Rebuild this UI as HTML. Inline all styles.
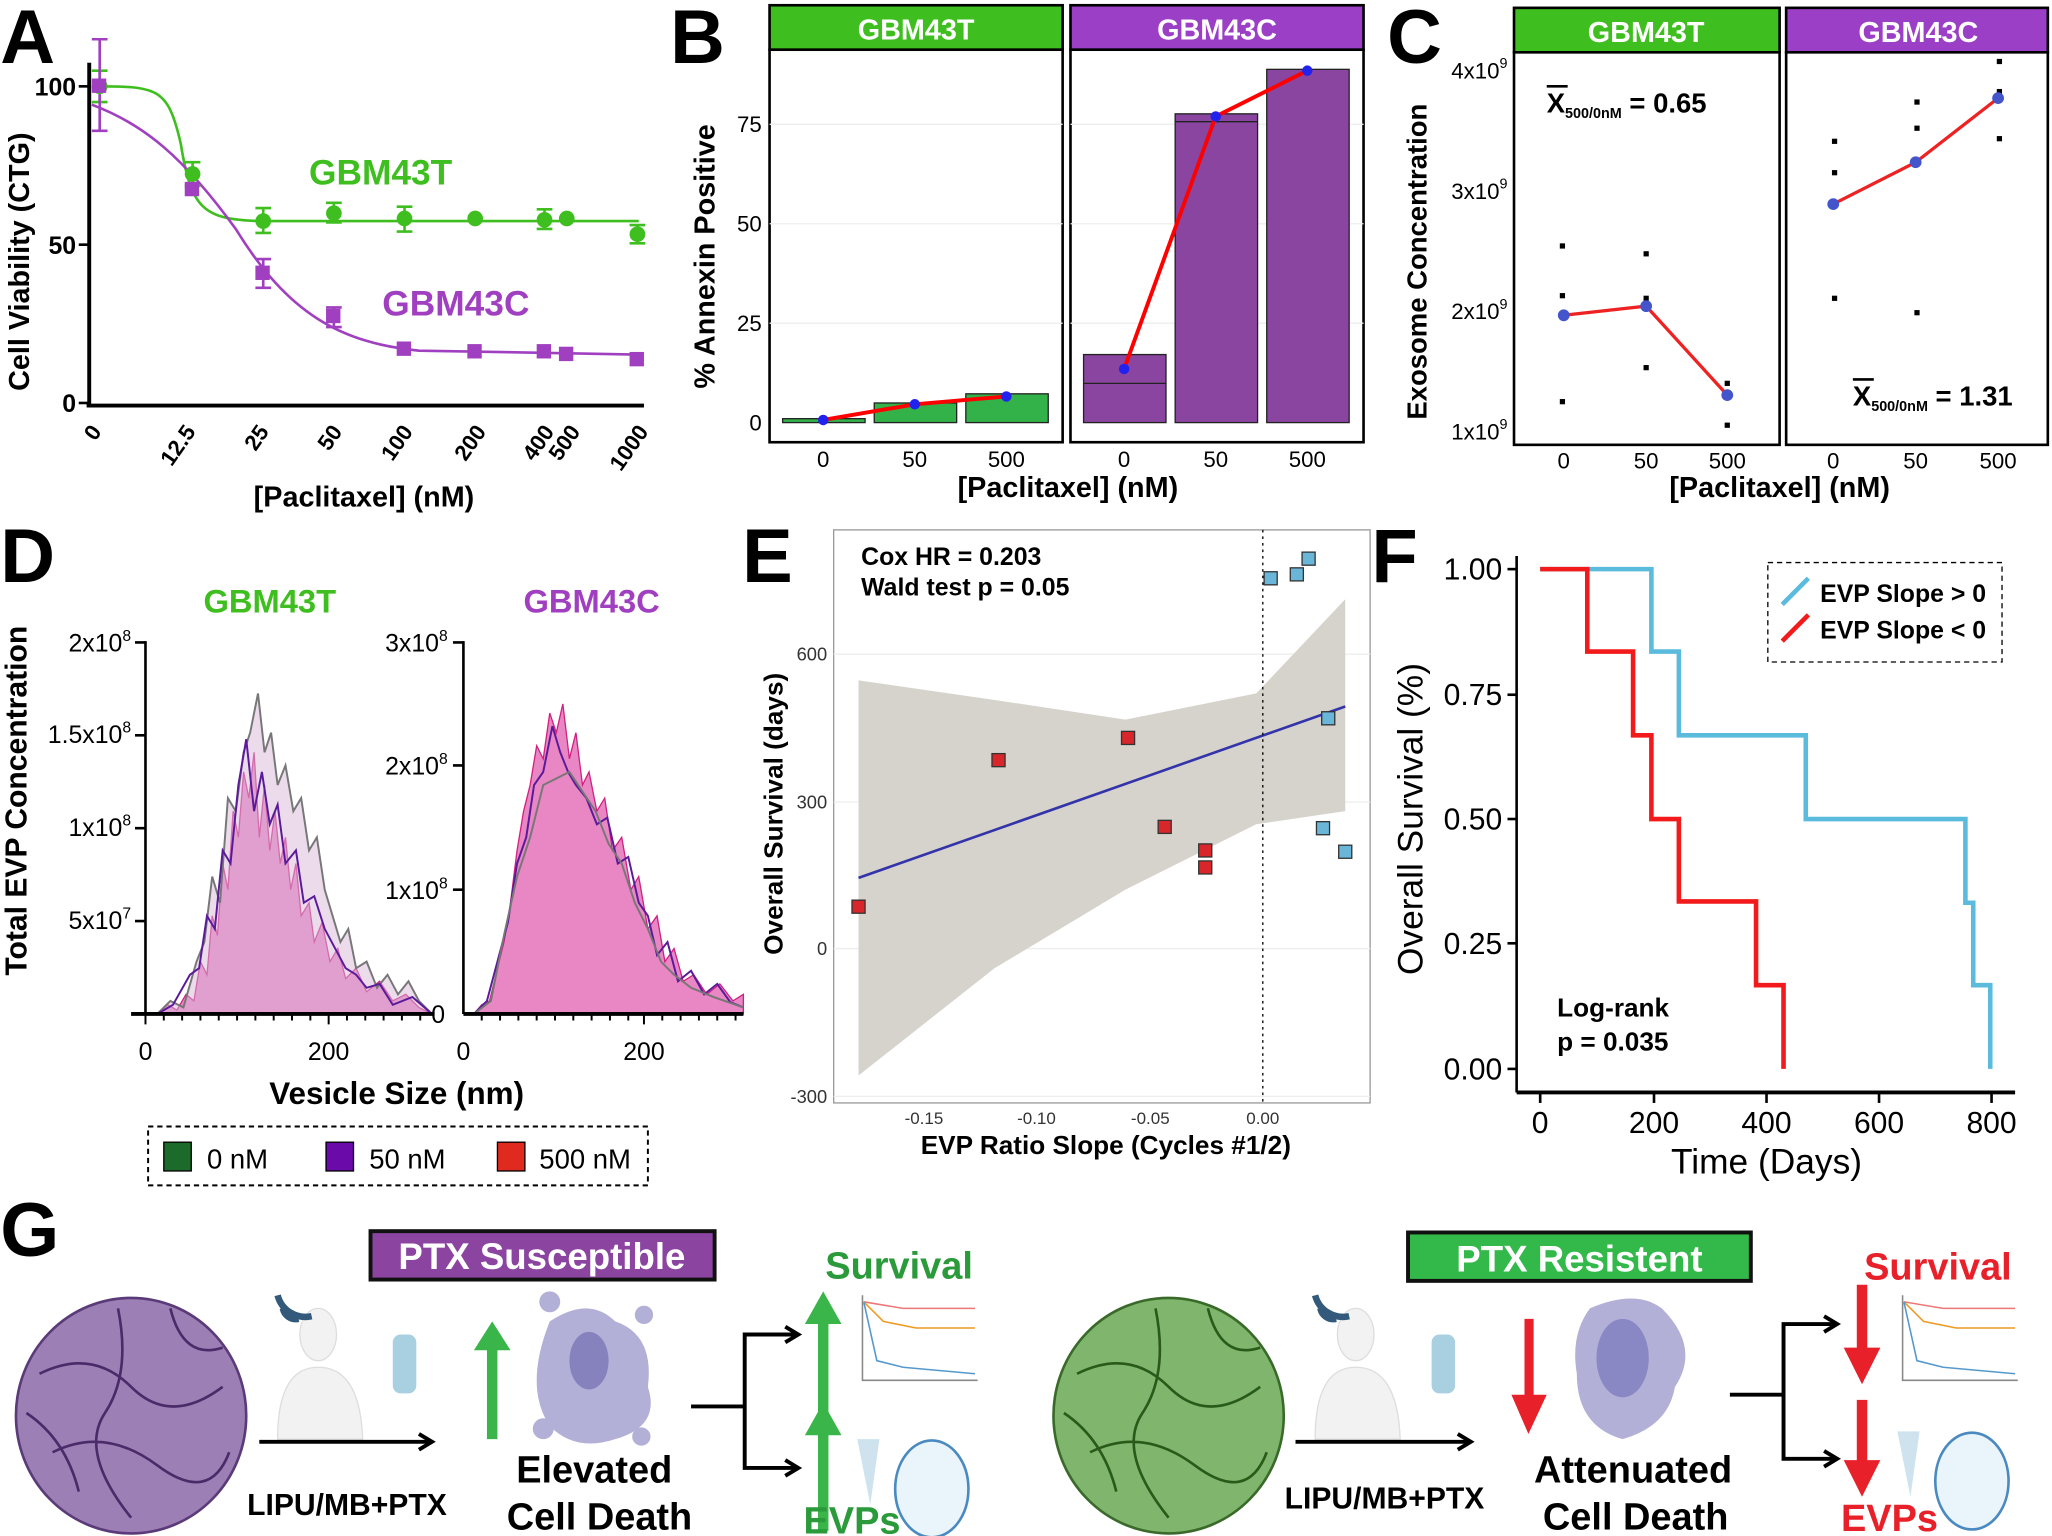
<!DOCTYPE html>
<html><head><meta charset="utf-8"><style>
html,body{margin:0;padding:0;background:#fff}
svg{display:block}
text{font-family:"Liberation Sans",sans-serif}
</style></head><body>
<svg width="2052" height="1536" viewBox="0 0 1568 1174" xmlns="http://www.w3.org/2000/svg">
<g font-weight="bold" font-size="58">
<text x="0" y="48">A</text><text x="512" y="48">B</text><text x="1060" y="48">C</text>
<text x="0" y="445">D</text><text x="567" y="445">E</text><text x="1048" y="445">F</text>
<text x="0" y="960">G</text></g>

<!-- ===== A ===== -->
<g>
<line x1="68" y1="48" x2="68" y2="310" stroke="#000" stroke-width="3"/>
<line x1="66" y1="310" x2="492" y2="310" stroke="#000" stroke-width="3"/>
<g stroke="#000" stroke-width="2"><line x1="60" y1="66" x2="68" y2="66"/><line x1="60" y1="187" x2="68" y2="187"/><line x1="60" y1="308" x2="68" y2="308"/></g>
<g font-size="19" font-weight="bold" text-anchor="end"><text x="58" y="73">100</text><text x="58" y="194">50</text><text x="58" y="315">0</text></g>
<g font-size="17" font-weight="bold" text-anchor="end">
<text transform="translate(78,330) rotate(-55)">0</text>
<text transform="translate(150,330) rotate(-55)">12.5</text>
<text transform="translate(206,330) rotate(-55)">25</text>
<text transform="translate(262,330) rotate(-55)">50</text>
<text transform="translate(316,330) rotate(-55)">100</text>
<text transform="translate(372,330) rotate(-55)">200</text>
<text transform="translate(424,330) rotate(-55)">400</text>
<text transform="translate(444,330) rotate(-55)">500</text>
<text transform="translate(496,330) rotate(-55)">1000</text></g>
<text x="278" y="387" font-size="22" font-weight="bold" text-anchor="middle">[Paclitaxel] (nM)</text>
<text transform="translate(22,200) rotate(-90)" font-size="22" font-weight="bold" text-anchor="middle">Cell Viability (CTG)</text>
<path d="M70,66 C120,66 128,66 138,110 C146,160 155,168 200,169 L488,169" fill="none" stroke="#3fbf1f" stroke-width="2"/>
<path d="M70,80 C110,95 140,120 180,175 C220,240 260,262 320,268 L488,271" fill="none" stroke="#a040c0" stroke-width="2"/>
<g stroke="#3fbf1f" stroke-width="2"><path d="M76,54V78M70,54h12M70,78h12M147,124V142M141,124h12M141,142h12M201,159V178M195,159h12M195,178h12M255,155V170M249,155h12M249,170h12M309,158V177M303,158h12M303,177h12M416,160V175M410,160h12M410,175h12M487,172V186M481,172h12M481,186h12"/></g>
<g stroke="#a040c0" stroke-width="2"><path d="M76,30V100M70,30h12M70,100h12M201,198V220M195,198h12M195,220h12M255,235V250M249,235h12M249,250h12"/></g>
<g fill="#3fbf1f"><circle cx="76" cy="66" r="6"/><circle cx="147" cy="133" r="6"/><circle cx="201" cy="169" r="6"/><circle cx="255" cy="163" r="6"/><circle cx="309" cy="167" r="6"/><circle cx="363" cy="167" r="6"/><circle cx="416" cy="168" r="6"/><circle cx="433" cy="167" r="6"/><circle cx="487" cy="179" r="6"/></g>
<g fill="#a040c0"><rect x="70" y="60" width="11" height="11"/><rect x="141" y="139" width="11" height="11"/><rect x="195" y="203" width="11" height="11"/><rect x="249" y="236" width="11" height="11"/><rect x="303" y="261" width="11" height="11"/><rect x="357" y="263" width="11" height="11"/><rect x="410" y="263" width="11" height="11"/><rect x="427" y="265" width="11" height="11"/><rect x="481" y="269" width="11" height="11"/></g>
<text x="236" y="141" font-size="27" font-weight="bold" fill="#3fbf1f">GBM43T</text>
<text x="292" y="241" font-size="27" font-weight="bold" fill="#a040c0">GBM43C</text>
</g>

<!-- ===== B ===== -->
<g>
<rect x="588" y="4" width="224" height="34" fill="#3fbf1f" stroke="#000" stroke-width="2"/>
<rect x="818" y="4" width="224" height="34" fill="#9b3fc6" stroke="#000" stroke-width="2"/>
<text x="700" y="30" font-size="22" font-weight="bold" fill="#fff" text-anchor="middle">GBM43T</text>
<text x="930" y="30" font-size="22" font-weight="bold" fill="#fff" text-anchor="middle">GBM43C</text>
<rect x="588" y="38" width="224" height="300" fill="#fff" stroke="#000" stroke-width="2"/>
<rect x="818" y="38" width="224" height="300" fill="#fff" stroke="#000" stroke-width="2"/>
<g stroke="#eee"><line x1="588" y1="95" x2="812" y2="95"/><line x1="588" y1="171" x2="812" y2="171"/><line x1="588" y1="247" x2="812" y2="247"/><line x1="818" y1="95" x2="1042" y2="95"/><line x1="818" y1="171" x2="1042" y2="171"/><line x1="818" y1="247" x2="1042" y2="247"/></g>
<g stroke="#222" stroke-width="1" fill="#33b249"><rect x="598" y="320" width="63" height="3"/><rect x="668" y="308" width="63" height="15"/><rect x="738" y="301" width="63" height="22"/></g>
<g stroke="#222" stroke-width="1" fill="#8a45a0"><rect x="828" y="271" width="63" height="52"/><rect x="898" y="87" width="63" height="236"/><rect x="968" y="53" width="63" height="270"/></g>
<line x1="828" y1="293" x2="891" y2="293" stroke="#222"/><line x1="898" y1="93" x2="961" y2="93" stroke="#222"/>
<polyline points="629,321 699,309 769,303" fill="none" stroke="red" stroke-width="3"/>
<polyline points="859,282 929,89 999,54" fill="none" stroke="red" stroke-width="3"/>
<g fill="#22e"><circle cx="629" cy="321" r="4"/><circle cx="699" cy="309" r="4"/><circle cx="769" cy="303" r="4"/><circle cx="859" cy="282" r="4"/><circle cx="929" cy="89" r="4"/><circle cx="999" cy="54" r="4"/></g>
<g font-size="17" text-anchor="end"><text x="582" y="101">75</text><text x="582" y="177">50</text><text x="582" y="253">25</text><text x="582" y="329">0</text></g>
<g font-size="17" text-anchor="middle"><text x="629" y="357">0</text><text x="699" y="357">50</text><text x="769" y="357">500</text><text x="859" y="357">0</text><text x="929" y="357">50</text><text x="999" y="357">500</text></g>
<text x="816" y="380" font-size="22" font-weight="bold" text-anchor="middle">[Paclitaxel] (nM)</text>
<text transform="translate(546,196) rotate(-90)" font-size="22" font-weight="bold" text-anchor="middle">% Annexin Positive</text>
</g>

<!-- ===== C ===== -->
<g>
<rect x="1157" y="6" width="203" height="34" fill="#3fbf1f" stroke="#000" stroke-width="2"/>
<rect x="1365" y="6" width="200" height="34" fill="#9b3fc6" stroke="#000" stroke-width="2"/>
<text x="1258" y="32" font-size="22" font-weight="bold" fill="#fff" text-anchor="middle">GBM43T</text>
<text x="1466" y="32" font-size="22" font-weight="bold" fill="#fff" text-anchor="middle">GBM43C</text>
<rect x="1157" y="40" width="203" height="300" fill="#fff" stroke="#000" stroke-width="2"/>
<rect x="1365" y="40" width="200" height="300" fill="#fff" stroke="#000" stroke-width="2"/>
<g font-size="17" text-anchor="end"><text x="1152" y="60">4x10<tspan font-size="11" dy="-8">9</tspan></text><text x="1152" y="152">3x10<tspan font-size="11" dy="-8">9</tspan></text><text x="1152" y="244">2x10<tspan font-size="11" dy="-8">9</tspan></text><text x="1152" y="336">1x10<tspan font-size="11" dy="-8">9</tspan></text></g>
<g font-size="17" text-anchor="middle"><text x="1195" y="358">0</text><text x="1258" y="358">50</text><text x="1320" y="358">500</text><text x="1401" y="358">0</text><text x="1464" y="358">50</text><text x="1527" y="358">500</text></g>
<g fill="#000"><rect x="1192" y="186" width="4" height="4"/><rect x="1192" y="224" width="4" height="4"/><rect x="1192" y="305" width="4" height="4"/><rect x="1256" y="192" width="4" height="4"/><rect x="1256" y="226" width="4" height="4"/><rect x="1256" y="279" width="4" height="4"/><rect x="1318" y="291" width="4" height="4"/><rect x="1318" y="323" width="4" height="4"/><rect x="1400" y="106" width="4" height="4"/><rect x="1400" y="130" width="4" height="4"/><rect x="1400" y="226" width="4" height="4"/><rect x="1463" y="76" width="4" height="4"/><rect x="1463" y="96" width="4" height="4"/><rect x="1463" y="237" width="4" height="4"/><rect x="1526" y="45" width="4" height="4"/><rect x="1526" y="68" width="4" height="4"/><rect x="1526" y="104" width="4" height="4"/></g>
<polyline points="1195,241 1258,234 1320,302" fill="none" stroke="#e22" stroke-width="2.5"/>
<polyline points="1401,156 1464,124 1527,75" fill="none" stroke="#e22" stroke-width="2.5"/>
<g fill="#4455cc"><circle cx="1195" cy="241" r="4.5"/><circle cx="1258" cy="234" r="4.5"/><circle cx="1320" cy="302" r="4.5"/><circle cx="1401" cy="156" r="4.5"/><circle cx="1464" cy="124" r="4.5"/><circle cx="1527" cy="75" r="4.5"/></g>
<text x="1182" y="86" font-size="21" font-weight="bold">X<tspan font-size="11" dy="4">500/0nM</tspan><tspan dy="-4"> = 0.65</tspan></text>
<line x1="1182" y1="66" x2="1198" y2="66" stroke="#000" stroke-width="2"/>
<text x="1416" y="310" font-size="21" font-weight="bold">X<tspan font-size="11" dy="4">500/0nM</tspan><tspan dy="-4"> = 1.31</tspan></text>
<line x1="1416" y1="290" x2="1432" y2="290" stroke="#000" stroke-width="2"/>
<text x="1360" y="380" font-size="22" font-weight="bold" text-anchor="middle">[Paclitaxel] (nM)</text>
<text transform="translate(1090,200) rotate(-90)" font-size="21" font-weight="bold" text-anchor="middle">Exosome Concentration</text>
</g>

<!-- ===== D ===== -->
<g>
<text x="206" y="468" font-size="25" font-weight="bold" fill="#3fbf1f" text-anchor="middle">GBM43T</text>
<text x="452" y="468" font-size="25" font-weight="bold" fill="#a040c0" text-anchor="middle">GBM43C</text>
<text transform="translate(20,612) rotate(-90)" font-size="23" font-weight="bold" text-anchor="middle">Total EVP Concentration</text>
<line x1="111" y1="490" x2="111" y2="775" stroke="#000" stroke-width="2"/>
<line x1="354" y1="490" x2="354" y2="775" stroke="#000" stroke-width="2"/>
<g stroke="#000" stroke-width="2"><path d="M103,491h8M103,562h8M103,633h8M103,704h8M346,491h8M346,585h8M346,680h8"/></g>
<g font-size="19" text-anchor="end"><text x="100" y="498">2x10<tspan font-size="12" dy="-8">8</tspan></text><text x="100" y="568">1.5x10<tspan font-size="12" dy="-8">8</tspan></text><text x="100" y="639">1x10<tspan font-size="12" dy="-8">8</tspan></text><text x="100" y="710">5x10<tspan font-size="12" dy="-8">7</tspan></text>
<text x="342" y="498">3x10<tspan font-size="12" dy="-8">8</tspan></text><text x="342" y="592">2x10<tspan font-size="12" dy="-8">8</tspan></text><text x="342" y="687">1x10<tspan font-size="12" dy="-8">8</tspan></text><text x="340" y="782">0</text></g>
<path d="M120,775 L128,768 L135,772 L142,760 L148,765 L153,735 L158,745 L162,700 L166,715 L170,660 L174,680 L178,620 L182,640 L186,590 L190,610 L194,575 L198,640 L202,600 L206,650 L210,620 L214,660 L218,640 L222,680 L226,660 L230,700 L236,690 L240,720 L246,705 L252,735 L258,725 L264,748 L272,740 L280,758 L290,750 L300,765 L310,760 L320,770 L330,775 Z" fill="#e887c4" stroke="#d02080" stroke-width="1"/>
<path d="M120,775 L130,765 L140,770 L150,735 L156,720 L162,670 L168,690 L174,610 L180,620 L186,575 L191,560 L197,530 L202,575 L207,560 L212,600 L218,585 L224,620 L230,610 L236,650 L242,640 L248,680 L254,700 L260,720 L266,710 L272,740 L280,735 L288,755 L296,745 L304,760 L312,750 L320,765 L330,775" fill="#d8b8d8" fill-opacity="0.5" stroke="#777" stroke-width="1.5"/>
<path d="M120,775 L132,768 L145,745 L152,740 L158,700 L164,710 L170,650 L176,660 L182,600 L188,565 L194,620 L200,590 L206,630 L212,615 L218,660 L226,650 L232,690 L240,685 L248,710 L256,725 L264,740 L272,745 L280,755 L290,752 L300,768 L315,762 L330,775" fill="none" stroke="#5a1a9a" stroke-width="1.5"/>
<path d="M362,775 L368,768 L374,765 L380,740 L385,720 L390,690 L395,650 L400,620 L405,600 L410,570 L415,580 L420,545 L425,560 L430,538 L435,580 L440,560 L445,600 L450,590 L456,620 L462,610 L468,650 L475,640 L482,680 L488,670 L495,710 L502,700 L508,735 L515,725 L522,750 L530,745 L540,760 L550,752 L560,765 L568,760 L568,775 Z" fill="#e887c4" stroke="#d02080" stroke-width="1"/>
<path d="M362,775 L372,765 L380,735 L388,705 L395,660 L402,640 L408,600 L415,590 L422,555 L428,575 L434,590 L440,600 L448,610 L456,630 L464,625 L472,660 L480,655 L488,690 L495,700 L502,730 L510,720 L518,750 L528,742 L538,760 L548,752 L558,766 L568,770" fill="none" stroke="#5a1a9a" stroke-width="1.5"/>
<path d="M362,775 L375,765 L385,715 L395,670 L405,640 L415,600 L425,595 L435,590 L445,605 L455,620 L465,645 L475,660 L485,690 L495,710 L505,735 L515,745 L528,755 L545,762 L568,770" fill="none" stroke="#777" stroke-width="1.5"/>
<line x1="100" y1="775" x2="332" y2="775" stroke="#000" stroke-width="3"/>
<line x1="354" y1="775" x2="568" y2="775" stroke="#000" stroke-width="3"/>
<g stroke="#000" stroke-width="1.5"><path d="M111,775v8M125,775v5M139,775v5M153,775v5M167,775v5M181,775v5M195,775v5M209,775v5M223,775v5M237,775v5M251,775v8M265,775v5M279,775v5M293,775v5M307,775v5M321,775v5M368,775v5M382,775v5M396,775v5M410,775v5M424,775v5M438,775v5M452,775v5M466,775v5M480,775v5M492,775v8M506,775v5M520,775v5M534,775v5M548,775v5M562,775v5"/></g>
<g font-size="19" text-anchor="middle"><text x="111" y="810">0</text><text x="251" y="810">200</text><text x="354" y="810">0</text><text x="492" y="810">200</text></g>
<text x="303" y="844" font-size="24" font-weight="bold" text-anchor="middle">Vesicle Size (nm)</text>
<rect x="113" y="861" width="382" height="45" fill="none" stroke="#000" stroke-width="1.5" stroke-dasharray="4,3"/>
<rect x="125" y="873" width="21" height="22" fill="#1d6b2a" stroke="#000"/>
<rect x="249" y="873" width="21" height="22" fill="#6a0aa8" stroke="#000"/>
<rect x="380" y="873" width="21" height="22" fill="#e02a20" stroke="#000"/>
<g font-size="21"><text x="158" y="893">0 nM</text><text x="282" y="893">50 nM</text><text x="412" y="893">500 nM</text></g>
</g>

<!-- ===== E ===== -->
<g>
<rect x="637" y="405" width="410" height="438" fill="#fff" stroke="#999"/>
<g stroke="#eee"><line x1="637" y1="500" x2="1047" y2="500"/><line x1="637" y1="613" x2="1047" y2="613"/><line x1="637" y1="725" x2="1047" y2="725"/><line x1="637" y1="838" x2="1047" y2="838"/></g>
<path d="M656,520 L760,535 L860,550 L960,530 L1028,458 L1028,620 L960,630 L860,680 L760,740 L656,822 Z" fill="#d6d3cc"/>
<line x1="656" y1="671" x2="1028" y2="540" stroke="#3333aa" stroke-width="2"/>
<line x1="965" y1="405" x2="965" y2="843" stroke="#000" stroke-dasharray="2,3"/>
<g fill="#d8262a" stroke="#333"><rect x="651" y="688" width="10" height="10"/><rect x="758" y="576" width="10" height="10"/><rect x="857" y="559" width="10" height="10"/><rect x="885" y="627" width="10" height="10"/><rect x="916" y="645" width="10" height="10"/><rect x="916" y="658" width="10" height="10"/></g>
<g fill="#6ab6d8" stroke="#333"><rect x="966" y="437" width="10" height="10"/><rect x="986" y="434" width="10" height="10"/><rect x="995" y="422" width="10" height="10"/><rect x="1010" y="544" width="10" height="10"/><rect x="1006" y="628" width="10" height="10"/><rect x="1023" y="646" width="10" height="10"/></g>
<g font-size="14" text-anchor="end" fill="#333"><text x="632" y="505">600</text><text x="632" y="618">300</text><text x="632" y="730">0</text><text x="632" y="843">-300</text></g>
<g font-size="13" text-anchor="middle" fill="#333"><text x="706" y="859">-0.15</text><text x="792" y="859">-0.10</text><text x="879" y="859">-0.05</text><text x="965" y="859">0.00</text></g>
<text x="845" y="882" font-size="20" font-weight="bold" text-anchor="middle">EVP Ratio Slope (Cycles #1/2)</text>
<text transform="translate(598,622) rotate(-90)" font-size="20" font-weight="bold" text-anchor="middle">Overall Survival (days)</text>
<text x="658" y="432" font-size="19" font-weight="bold">Cox HR = 0.203</text>
<text x="658" y="455" font-size="19" font-weight="bold">Wald test p = 0.05</text>
</g>

<!-- ===== F ===== -->
<g>
<line x1="1159" y1="425" x2="1159" y2="835" stroke="#000" stroke-width="2"/>
<line x1="1159" y1="835" x2="1540" y2="835" stroke="#000" stroke-width="3"/>
<g stroke="#000" stroke-width="2"><line x1="1152" y1="435" x2="1159" y2="435"/><line x1="1152" y1="531" x2="1159" y2="531"/><line x1="1152" y1="626" x2="1159" y2="626"/><line x1="1152" y1="721" x2="1159" y2="721"/><line x1="1152" y1="817" x2="1159" y2="817"/>
<line x1="1177" y1="835" x2="1177" y2="843"/><line x1="1264" y1="835" x2="1264" y2="843"/><line x1="1350" y1="835" x2="1350" y2="843"/><line x1="1436" y1="835" x2="1436" y2="843"/><line x1="1522" y1="835" x2="1522" y2="843"/></g>
<g font-size="23" text-anchor="end"><text x="1148" y="443">1.00</text><text x="1148" y="539">0.75</text><text x="1148" y="634">0.50</text><text x="1148" y="729">0.25</text><text x="1148" y="825">0.00</text></g>
<g font-size="23" text-anchor="middle"><text x="1177" y="866">0</text><text x="1264" y="866">200</text><text x="1350" y="866">400</text><text x="1436" y="866">600</text><text x="1522" y="866">800</text></g>
<text x="1350" y="897" font-size="27" text-anchor="middle">Time (Days)</text>
<text transform="translate(1087,626) rotate(-90)" font-size="27" text-anchor="middle">Overall Survival (%)</text>
<path d="M1177,435 L1262,435 L1262,498 L1283,498 L1283,562 L1380,562 L1380,626 L1502,626 L1502,690 L1508,690 L1508,753 L1521,753 L1521,817" fill="none" stroke="#5bbbdd" stroke-width="3.5"/>
<path d="M1177,435 L1213,435 L1213,498 L1248,498 L1248,562 L1262,562 L1262,626 L1283,626 L1283,689 L1342,689 L1342,753 L1363,753 L1363,817" fill="none" stroke="#f21a1a" stroke-width="3.5"/>
<rect x="1351" y="430" width="179" height="76" fill="none" stroke="#000" stroke-dasharray="4,3"/>
<line x1="1362" y1="462" x2="1382" y2="442" stroke="#5bbbdd" stroke-width="3.5"/>
<line x1="1362" y1="490" x2="1382" y2="470" stroke="#f21a1a" stroke-width="3.5"/>
<text x="1391" y="460" font-size="19" font-weight="bold">EVP Slope &gt; 0</text>
<text x="1391" y="488" font-size="19" font-weight="bold">EVP Slope &lt; 0</text>
<text x="1190" y="777" font-size="20" font-weight="bold">Log-rank</text>
<text x="1190" y="803" font-size="20" font-weight="bold">p = 0.035</text>
</g>

<!-- ===== G ===== -->
<g>
<rect x="283" y="941" width="263" height="37" fill="#8b45a0" stroke="#111" stroke-width="3"/>
<text x="414" y="970" font-size="28" font-weight="bold" fill="#fff" text-anchor="middle">PTX Susceptible</text>
<rect x="1076" y="942" width="262" height="37" fill="#33b84a" stroke="#111" stroke-width="3"/>
<text x="1207" y="972" font-size="28" font-weight="bold" fill="#fff" text-anchor="middle">PTX Resistent</text>
<ellipse cx="100" cy="1082" rx="88" ry="90" fill="#9b7fb5" stroke="#5a3a78" stroke-width="2"/>
<path d="M30,1050 Q70,1030 100,1060 T170,1060 M40,1110 Q80,1090 120,1120 T175,1110 M90,1000 Q100,1050 80,1080 T100,1160 M20,1080 Q50,1100 60,1140 M130,1000 Q140,1040 170,1030" fill="none" stroke="#4a2a68" stroke-width="2"/>
<ellipse cx="893" cy="1082" rx="88" ry="90" fill="#7fb56c" stroke="#3a6a2a" stroke-width="2"/>
<path d="M823,1050 Q863,1030 893,1060 T963,1060 M833,1110 Q873,1090 913,1120 T968,1110 M883,1000 Q893,1050 873,1080 T893,1160 M813,1080 Q843,1100 853,1140 M923,1000 Q933,1040 963,1030" fill="none" stroke="#2a5a1a" stroke-width="2"/>
<g fill="#f2f2f2" stroke="#ddd"><ellipse cx="243" cy="1020" rx="14" ry="20"/><path d="M212,1100 Q212,1045 243,1045 Q275,1045 277,1100 Z"/><ellipse cx="1036" cy="1020" rx="14" ry="20"/><path d="M1005,1100 Q1005,1045 1036,1045 Q1068,1045 1070,1100 Z"/></g>
<g fill="#a8d0e0"><rect x="300" y="1020" width="18" height="45" rx="6"/><rect x="1094" y="1020" width="18" height="45" rx="6"/></g>
<g fill="none" stroke="#335a7a" stroke-width="5"><path d="M216,1000 a10,10 0 0 0 12,8"/><path d="M212,990 a22,22 0 0 0 26,16"/><path d="M1009,1000 a10,10 0 0 0 12,8"/><path d="M1005,990 a22,22 0 0 0 26,16"/></g>
<g stroke="#000" stroke-width="3" fill="none"><line x1="198" y1="1102" x2="328" y2="1102"/><polyline points="320,1096 330,1102 320,1108"/><line x1="990" y1="1102" x2="1122" y2="1102"/><polyline points="1114,1096 1124,1102 1114,1108"/></g>
<text x="265" y="1158" font-size="23" font-weight="bold" text-anchor="middle">LIPU/MB+PTX</text>
<text x="1058" y="1153" font-size="23" font-weight="bold" text-anchor="middle">LIPU/MB+PTX</text>
<polygon points="376,1010 362,1032 372,1032 372,1100 380,1100 380,1032 390,1032" fill="#3ab54a"/>
<polygon points="1168,1096 1155,1066 1165,1066 1165,1008 1172,1008 1172,1066 1182,1066" fill="#e8202a"/>
<path d="M420,1010 Q450,990 470,1010 Q500,1020 495,1060 Q505,1090 470,1100 Q440,1110 420,1090 Q400,1060 420,1010Z" fill="#b3b0d8"/>
<ellipse cx="450" cy="1040" rx="15" ry="22" fill="#8582bd"/>
<g fill="#b3b0d8"><circle cx="420" cy="995" r="8"/><circle cx="492" cy="1005" r="7"/><circle cx="415" cy="1092" r="8"/><circle cx="490" cy="1098" r="7"/></g>
<path d="M1215,1000 Q1250,985 1270,1000 Q1300,1030 1280,1060 Q1275,1090 1240,1100 Q1205,1090 1205,1050 Q1200,1020 1215,1000Z" fill="#b3b0d8"/>
<ellipse cx="1240" cy="1038" rx="20" ry="30" fill="#8a88c4"/>
<text x="454" y="1133" font-size="29" font-weight="bold" text-anchor="middle">Elevated</text>
<text x="458" y="1169" font-size="29" font-weight="bold" text-anchor="middle">Cell Death</text>
<text x="1248" y="1133" font-size="29" font-weight="bold" text-anchor="middle">Attenuated</text>
<text x="1250" y="1169" font-size="29" font-weight="bold" text-anchor="middle">Cell Death</text>
<g stroke="#000" stroke-width="3" fill="none"><polyline points="528,1075 569,1075"/><polyline points="608,1020 569,1020 569,1122 608,1122"/><polyline points="600,1014 610,1020 600,1026"/><polyline points="600,1116 610,1122 600,1128"/>
<polyline points="1322,1066 1363,1066"/><polyline points="1402,1012 1363,1012 1363,1115 1402,1115"/><polyline points="1394,1006 1404,1012 1394,1018"/><polyline points="1394,1109 1404,1115 1394,1121"/></g>
<g fill="#3ab54a"><polygon points="629,987 615,1012 625,1012 625,1085 633,1085 633,1012 643,1012"/><polygon points="629,1072 615,1097 625,1097 625,1170 633,1170 633,1097 643,1097"/></g>
<g fill="#e8202a"><polygon points="1423,1058 1409,1030 1419,1030 1419,982 1427,982 1427,1030 1437,1030"/><polygon points="1423,1144 1409,1116 1419,1116 1419,1070 1427,1070 1427,1116 1437,1116"/></g>
<text x="687" y="977" font-size="29" font-weight="bold" fill="#2a9a3a" text-anchor="middle">Survival</text>
<text x="651" y="1172" font-size="29" font-weight="bold" fill="#2a9a3a" text-anchor="middle">EVPs</text>
<text x="1481" y="978" font-size="29" font-weight="bold" fill="#e8202a" text-anchor="middle">Survival</text>
<text x="1444" y="1170" font-size="29" font-weight="bold" fill="#e8202a" text-anchor="middle">EVPs</text>
<g fill="none" stroke-width="1.2"><polyline points="660,995 690,1000 745,1000" stroke="#e77"/><polyline points="660,995 675,1010 700,1015 745,1015" stroke="#e92"/><polyline points="660,995 670,1040 690,1045 745,1050" stroke="#59c"/><polyline points="659,990 659,1055 747,1055" stroke="#888"/>
<polyline points="1455,995 1485,1000 1540,1000" stroke="#e77"/><polyline points="1455,995 1470,1010 1495,1015 1540,1015" stroke="#e92"/><polyline points="1455,995 1465,1040 1485,1045 1540,1050" stroke="#59c"/><polyline points="1454,990 1454,1055 1542,1055" stroke="#888"/></g>
<g fill="#eaf4fb" stroke="#4a8ac0" stroke-width="2"><ellipse cx="712" cy="1138" rx="28" ry="37"/><ellipse cx="1507" cy="1132" rx="28" ry="37"/></g>
<g fill="#cfe3ef"><polygon points="655,1100 672,1100 665,1150"/><polygon points="1450,1094 1467,1094 1460,1144"/></g>
</g>
</svg>
</body></html>
